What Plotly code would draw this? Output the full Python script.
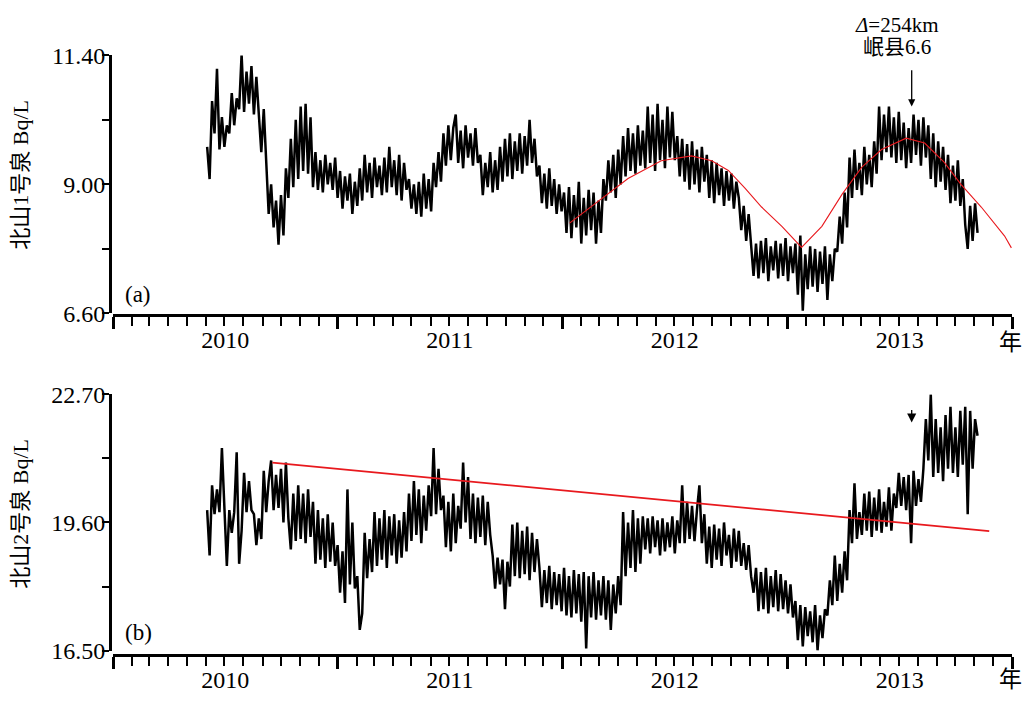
import pandas as pd
import plotly.graph_objects as go

# Radon concentration, Beishan spring No.1 (Bq/L), 4-day sampling from 2010-06-03
spring1_start = "2010-06-03"
spring1 = [
    9.70, 9.10, 10.55, 9.95, 11.15, 9.65, 10.25, 9.70, 10.10, 9.95,
    10.70, 10.10, 10.60, 10.40, 11.42, 10.35, 11.10, 10.50, 11.20, 10.30,
    11.00, 10.20, 9.60, 10.40, 9.30, 8.45, 9.00, 8.20, 8.70, 7.88,
    8.80, 8.05, 9.30, 8.75, 9.85, 8.95, 10.20, 9.10, 10.45, 9.25,
    10.50, 9.20, 10.25, 8.95, 9.60, 8.90, 9.45, 8.85, 9.55, 9.00,
    9.40, 8.90, 9.50, 8.75, 9.25, 8.55, 9.15, 8.70, 9.20, 8.45,
    9.05, 8.60, 9.30, 8.70, 9.55, 8.85, 9.40, 8.75, 9.50, 8.95,
    9.35, 8.80, 9.50, 8.85, 9.70, 8.95, 9.45, 8.80, 9.55, 8.70,
    9.40, 8.90, 9.10, 8.55, 9.00, 8.45, 9.05, 8.40, 9.20, 8.55,
    9.10, 8.50, 9.40, 8.95, 9.60, 9.05, 9.95, 9.35, 10.10, 9.45,
    10.05, 10.30, 9.40, 10.00, 9.30, 10.10, 9.50, 9.95, 9.35, 10.05,
    9.40, 9.55, 8.80, 9.40, 8.95, 9.60, 8.85, 9.45, 8.90, 9.70,
    9.05, 9.85, 9.15, 9.95, 9.10, 9.80, 9.25, 9.95, 9.20, 9.90,
    9.35, 10.20, 9.40, 9.85, 9.15, 9.35, 8.65, 9.20, 8.55, 9.30,
    8.60, 9.10, 8.45, 9.00, 8.50, 8.85, 8.10, 8.95, 8.00, 8.80,
    8.20, 9.05, 7.90, 8.75, 8.05, 8.90, 8.15, 8.85, 7.90, 8.70,
    8.10, 9.10, 8.70, 9.45, 8.85, 9.55, 8.75, 9.65, 9.00, 9.90,
    9.15, 10.05, 9.25, 9.95, 9.20, 10.10, 9.35, 10.00, 9.30, 10.45,
    9.40, 10.30, 9.25, 10.50, 9.45, 10.20, 9.30, 10.45, 9.50, 10.35,
    9.45, 9.90, 9.15, 9.85, 9.05, 9.75, 8.90, 9.80, 9.00, 9.65,
    8.85, 9.70, 9.05, 9.55, 8.75, 9.45, 8.65, 9.40, 8.80, 9.30,
    8.60, 9.25, 8.70, 9.20, 8.55, 9.05, 8.75, 8.15, 8.60, 7.95,
    8.45, 7.90, 7.30, 7.90, 7.25, 7.95, 7.35, 8.00, 7.20, 7.85,
    7.40, 7.95, 7.25, 7.90, 7.30, 8.00, 7.20, 7.85, 7.35, 7.90,
    6.95, 8.05, 6.65, 7.70, 7.05, 7.85, 7.10, 7.80, 7.00, 7.75,
    7.15, 7.85, 6.85, 7.70, 7.20, 7.80, 7.75, 8.40, 7.90, 8.85,
    8.20, 9.50, 8.75, 9.65, 8.90, 9.40, 8.80, 9.70, 9.00, 9.55,
    8.95, 9.80, 9.20, 10.45, 9.45, 10.30, 9.60, 10.45, 9.50, 10.25,
    9.40, 10.35, 9.45, 10.15, 9.30, 10.05, 9.40, 10.30, 9.55, 10.20,
    9.35, 10.25, 9.50, 10.10, 9.10, 9.95, 8.95, 9.80, 9.05, 9.70,
    8.90, 9.55, 8.65, 9.35, 8.70, 9.45, 8.60, 9.10, 8.25, 7.80,
    8.60, 7.95, 8.65, 8.10,
]

# Radon concentration, Beishan spring No.2 (Bq/L), same sampling
spring2_start = "2010-06-03"
spring2 = [
    19.90, 18.80, 20.50, 19.80, 20.40, 19.85, 21.40, 19.75, 18.55, 19.90,
    19.35, 19.85, 21.30, 18.60, 19.40, 20.80, 19.85, 20.60, 19.90, 19.80,
    19.05, 19.70, 19.20, 20.85, 19.85, 20.60, 21.10, 19.90, 20.75, 19.95,
    20.90, 19.60, 21.05, 19.70, 18.95, 20.30, 19.15, 20.50, 19.20, 20.30,
    19.10, 20.40, 19.25, 20.10, 18.60, 19.90, 18.70, 19.70, 18.50, 19.80,
    18.65, 19.60, 18.55, 19.05, 17.90, 18.90, 17.65, 20.40, 18.10, 19.60,
    18.00, 18.30, 17.00, 17.40, 19.35, 18.25, 19.20, 18.40, 19.85, 18.55,
    19.70, 18.70, 19.90, 18.50, 19.75, 18.80, 19.80, 18.60, 19.65, 18.75,
    19.85, 18.90, 20.30, 19.15, 20.60, 19.30, 20.40, 19.10, 20.25, 19.40,
    20.50, 19.75, 21.40, 19.80, 20.90, 19.90, 20.25, 19.00, 20.10, 18.90,
    20.30, 19.10, 20.00, 19.45, 21.05, 19.60, 20.70, 19.20, 20.30, 19.10,
    20.20, 19.25, 20.25, 19.05, 20.10, 19.30, 18.80, 18.00, 18.75, 18.10,
    18.70, 17.50, 18.65, 18.05, 19.55, 18.30, 19.60, 18.25, 19.40, 18.35,
    19.50, 18.20, 19.35, 18.40, 19.20, 18.50, 17.55, 18.45, 17.65, 18.55,
    17.50, 18.40, 17.60, 18.35, 17.45, 18.50, 17.35, 18.30, 17.30, 18.45,
    17.40, 18.35, 17.20, 18.40, 16.55, 18.30, 17.30, 18.40, 17.25, 18.20,
    17.35, 18.30, 17.25, 18.20, 17.00, 18.10, 17.40, 18.30, 17.60, 19.85,
    18.30, 19.60, 18.50, 19.90, 18.40, 19.70, 18.60, 19.75, 18.95, 19.70,
    18.85, 19.75, 19.00, 19.65, 18.80, 19.70, 18.90, 19.60, 19.00, 19.75,
    18.85, 19.65, 19.10, 20.50, 19.10, 20.10, 19.20, 20.00, 19.15, 19.90,
    20.50, 19.10, 19.80, 18.60, 19.50, 18.50, 19.55, 18.70, 19.45, 18.55,
    19.60, 18.80, 19.30, 18.50, 19.45, 18.65, 19.40, 18.55, 19.10, 18.45,
    19.05, 18.30, 17.90, 18.50, 17.45, 18.40, 17.50, 18.50, 17.40, 18.30,
    17.55, 18.45, 17.45, 18.35, 17.50, 18.20, 17.40, 18.10, 17.30, 17.70,
    16.75, 17.60, 16.60, 17.55, 16.85, 17.45, 16.70, 17.60, 16.50, 17.35,
    16.80, 17.50, 17.35, 18.20, 17.60, 18.80, 17.70, 18.60, 17.90, 18.90,
    18.20, 19.90, 19.10, 20.55, 19.20, 19.85, 19.30, 20.30, 19.40, 20.35,
    19.25, 20.20, 19.40, 20.40, 19.35, 20.10, 19.50, 20.45, 19.40, 20.30,
    19.95, 20.80, 20.00, 20.70, 19.90, 20.75, 19.10, 20.85, 20.00, 20.65,
    20.10, 20.90, 22.10, 21.10, 22.70, 20.70, 22.10, 20.80, 21.90, 20.60,
    22.20, 20.90, 22.40, 20.80, 21.90, 20.70, 22.30, 21.00, 22.40, 19.80,
    22.30, 20.90, 22.10, 21.70,
]

# Fitted background curve for spring No.1
fit1_dates = [
    "2012-01-13", "2012-02-23", "2012-04-17", "2012-06-10", "2012-07-29",
    "2012-08-31", "2012-09-27", "2012-10-24", "2012-11-20", "2012-12-23",
    "2013-01-24", "2013-02-26", "2013-03-31", "2013-05-02", "2013-06-03",
    "2013-07-13", "2013-08-12", "2013-09-13", "2013-10-10", "2013-11-12",
    "2013-12-20", "2013-12-31",
]
fit1_values = [
    8.28, 8.64, 9.11, 9.44, 9.53, 9.44, 9.26, 8.93, 8.58, 8.22,
    7.83, 8.22, 8.82, 9.32, 9.65, 9.86, 9.77, 9.41, 9.00, 8.58,
    8.04, 7.82,
]

# Linear trend for spring No.2
fit2_dates = ["2010-09-17", "2013-11-25"]
fit2_values = [21.05, 19.39]

# Minxian M6.6 earthquake marker (arrow tail / head values on each panel)
quake_date = "2013-07-22"
quake_arrow1 = [11.15, 10.45]
quake_arrow2 = [22.36, 22.02]

y1_ticks = [6.6, 7.8, 9.0, 10.2, 11.4]
y1_labels = ["6.60", "", "9.00", "", "11.40"]
y2_ticks = [16.5, 18.05, 19.6, 21.15, 22.7]
y2_labels = ["16.50", "", "19.60", "", "22.70"]

W, H = 1022, 704
FONT = "Liberation Serif, Noto Sans CJK SC, serif"

d1 = pd.date_range(spring1_start, periods=len(spring1), freq="4D")
d2 = pd.date_range(spring2_start, periods=len(spring2), freq="4D")

fig = go.Figure()
fig.add_trace(go.Scatter(x=d1, y=spring1, mode="lines", xaxis="x", yaxis="y",
                         line=dict(color="black", width=2.5), showlegend=False))
fig.add_trace(go.Scatter(x=fit1_dates, y=fit1_values, mode="lines", xaxis="x", yaxis="y",
                         line=dict(color="#e8191e", width=1.1), showlegend=False))
fig.add_trace(go.Scatter(x=d2, y=spring2, mode="lines", xaxis="x2", yaxis="y2",
                         line=dict(color="black", width=2.5), showlegend=False))
fig.add_trace(go.Scatter(x=fit2_dates, y=fit2_values, mode="lines", xaxis="x2", yaxis="y2",
                         line=dict(color="#e8191e", width=1.8), showlegend=False))

xdom = [113 / W, 1012 / W]


def xaxis_cfg(pos):
    return dict(
        type="date", domain=xdom, anchor="free", position=pos,
        range=["2010-01-01", "2014-01-01"],
        showline=True, linewidth=3, linecolor="black",
        ticks="outside", ticklen=12, tickwidth=3, tickcolor="black",
        dtick="M12", tick0="2010-01-01", ticklabelmode="period", tickformat="%Y",
        ticklabelstandoff=-10,
        minor=dict(dtick="M1", ticks="outside", ticklen=9, tickwidth=1.6, tickcolor="black"),
        tickfont=dict(family=FONT, size=24, color="black"),
        showgrid=False, zeroline=False, fixedrange=True,
    )


def yaxis_cfg(dom, rng, vals, text):
    return dict(
        domain=dom, anchor="free", position=110 / W, range=rng,
        showline=True, linewidth=3, linecolor="black",
        ticks="outside", ticklen=7, tickwidth=2, tickcolor="black",
        tickvals=vals, ticktext=text, ticklabelstandoff=-8,
        tickfont=dict(family=FONT, size=24, color="black"),
        showgrid=False, zeroline=False, fixedrange=True,
    )


fig.update_layout(
    width=W, height=H, margin=dict(l=0, r=0, t=0, b=0),
    paper_bgcolor="white", plot_bgcolor="white",
    xaxis=xaxis_cfg(1 - 314 / H),
    yaxis=yaxis_cfg([1 - 312 / H, 1 - 44 / H], [6.6, 11.4], y1_ticks, y1_labels),
    xaxis2=xaxis_cfg(1 - 667 / H),
    yaxis2=yaxis_cfg([1 - 662 / H, 1 - 396 / H], [16.5, 22.7], y2_ticks, y2_labels),
)

txt = dict(family=FONT, size=22, color="black")
big = dict(family=FONT, size=23, color="black")
note = dict(family=FONT, size=21, color="black")


def label(px, py, text, font, **kw):
    return dict(xref="paper", yref="paper", x=px / W, y=1 - py / H, text=text,
                xanchor="center", yanchor="middle", showarrow=False, font=font, **kw)


def arrow(xr, yr, tail, head, size):
    return dict(xref=xr, yref=yr, axref=xr, ayref=yr, x=quake_date, y=head,
                ax=quake_date, ay=tail, text="", showarrow=True, arrowhead=2,
                arrowsize=size, arrowwidth=1.3, arrowcolor="black")


ann = [
    label(21, 168, "北山1号泉 Bq/L", txt, textangle=-90),
    label(21, 520, "北山2号泉 Bq/L", txt, textangle=-90),
    label(138, 292, "(a)", big),
    label(138, 643, "(b)", big),
    label(1010, 342, "年", big),
    label(1010, 692, "年", big),
    label(897, 12, "<i>Δ</i>=254km", note),
    label(897, 35, "岷县6.6", note),
    arrow("x", "y", quake_arrow1[0], quake_arrow1[1], 1.1),
    arrow("x2", "y2", quake_arrow2[0], quake_arrow2[1], 1.4),
]
fig.update_layout(annotations=ann)

fig.write_html("out.html")
